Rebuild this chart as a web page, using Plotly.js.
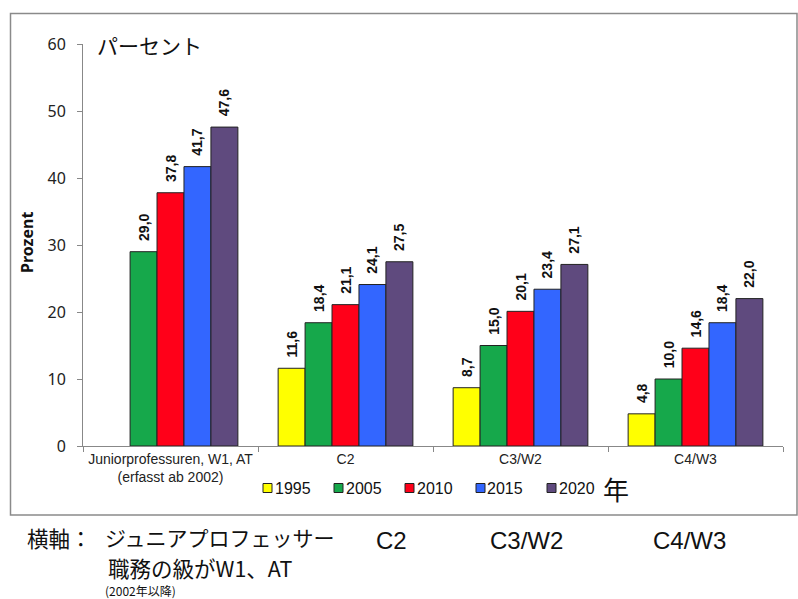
<!DOCTYPE html>
<html>
<head>
<meta charset="utf-8">
<script src="https://cdn.plot.ly/plotly-3.0.1.min.js"></script>
<style>
  html, body { margin: 0; padding: 0; background: #ffffff; }
  #chart { width: 798px; height: 599px; }
</style>
</head>
<body>
<div id="chart"></div>
<script>
// Categories (x axis) and the five survey years
const categories = [
  "Juniorprofessuren, W1, AT<br>(erfasst ab 2002)",
  "C2",
  "C3/W2",
  "C4/W3"
];
const years = ["1995", "2005", "2010", "2015", "2020"];

// Share of women per grade, in percent
const values1995 = [null, 11.6, 8.7, 4.8];
const values2005 = [29.0, 18.4, 15.0, 10.0];
const values2010 = [37.8, 21.1, 20.1, 14.6];
const values2015 = [41.7, 24.1, 23.4, 18.4];
const values2020 = [47.6, 27.5, 27.1, 22.0];

const seriesValues = [values1995, values2005, values2010, values2015, values2020];
const seriesColors = ["#ffff00", "#16a84b", "#ff0019", "#3366ff", "#5f4a7e"];

const plotLeft = 83, plotRight = 783, plotTop = 44, plotBottom = 446;
const W = 798, H = 599;
// pixel -> paper coordinate helpers
const px = x => (x - plotLeft) / (plotRight - plotLeft);
const py = y => (plotBottom - y) / (plotBottom - plotTop);

// German decimal comma; leading no-break spaces lift the label off the bar top
const fmt = v => (v === null ? "" : "\u00a0\u00a0" + v.toFixed(1).replace(".", ","));

const latin = "Liberation Sans, Arial, sans-serif";
const jpFont = "Noto Sans CJK JP, sans-serif";

const traces = years.map((yr, i) => ({
  type: "bar",
  name: yr,
  x: categories,
  y: seriesValues[i],
  text: seriesValues[i].map(fmt),
  textposition: "outside",
  textangle: -90,
  constraintext: "none",
  cliponaxis: false,
  textfont: { family: latin, size: 14, weight: "bold", color: "#111" },
  marker: { color: seriesColors[i], line: { color: "#222", width: 1 } },
  hoverinfo: "skip",
  showlegend: false
}));

// Year key below the axis: small outlined squares followed by the year
const keyStartX = 267.5, keyStep = 71, keyY = 488, keySize = 9;
const keyShapes = years.map((yr, i) => {
  const cx = keyStartX + i * keyStep;
  return {
    type: "rect", xref: "paper", yref: "paper",
    x0: px(cx - keySize / 2), x1: px(cx + keySize / 2),
    y0: py(keyY + keySize / 2), y1: py(keyY - keySize / 2),
    fillcolor: seriesColors[i], line: { color: "#222", width: 1 }
  };
});
const keyLabels = years.map((yr, i) => ({
  text: yr, xref: "paper", yref: "paper",
  x: px(keyStartX + i * keyStep + 5), y: py(keyY),
  showarrow: false, xanchor: "left", yanchor: "middle",
  font: { family: latin, size: 16, color: "#111" }
}));

const note = (text, x, y, size, family, xanchor) => ({
  text: text, xref: "paper", yref: "paper", x: px(x), y: py(y),
  showarrow: false, xanchor: xanchor || "left", yanchor: "middle", borderpad: 0,
  font: { family: family, size: size, color: "#111" }
});

const layout = {
  width: W,
  height: H,
  margin: { l: plotLeft, r: W - plotRight, t: plotTop, b: H - plotBottom, pad: 0 },
  paper_bgcolor: "#ffffff",
  plot_bgcolor: "#ffffff",
  barmode: "group",
  bargap: 0.23,
  bargroupgap: 0,
  showlegend: false,
  xaxis: {
    type: "category",
    range: [-0.5, 3.5],
    showline: true, linecolor: "#888", linewidth: 1,
    ticks: "outside", tickson: "boundaries", ticklen: 5, tickcolor: "#888",
    tickfont: { family: latin, size: 14, color: "#222" },
    showgrid: false, zeroline: false, fixedrange: true
  },
  yaxis: {
    range: [0, 60], dtick: 10,
    showline: true, linecolor: "#888", linewidth: 1,
    ticks: "outside", ticklen: 5, tickcolor: "#888",
    ticklabelstandoff: 8,
    tickfont: { family: "Noto Sans, sans-serif", size: 16, color: "#222" },
    showgrid: false, zeroline: false, fixedrange: true
  },
  shapes: [
    {
      type: "rect", xref: "paper", yref: "paper",
      x0: px(10.5), x1: px(797), y0: py(515), y1: py(13.5),
      line: { color: "#8a8a8a", width: 1.5 }, fillcolor: "rgba(0,0,0,0)", layer: "below"
    }
  ].concat(keyShapes),
  annotations: [
    { text: "Prozent", xref: "paper", yref: "paper", x: px(27), y: py(243),
      textangle: -90, showarrow: false, xanchor: "center", yanchor: "middle",
      font: { family: "Noto Sans, sans-serif", size: 16, weight: "bold", color: "#111" } },
    note("パーセント", 96, 45, 21, jpFont),
    note("年", 602, 488, 26, jpFont),
    note("横軸：", 26, 537, 21.5, jpFont),
    note("ジュニアプロフェッサー", 104, 537, 21, jpFont),
    note("職務の級がW1、AT", 107, 567.5, 21.5, jpFont),
    note("(2002年以降)", 104, 590.5, 12, jpFont),
    note("C2", 391, 540, 24, latin, "center"),
    note("C3/W2", 526, 540, 24, latin, "center"),
    note("C4/W3", 689, 540, 24, latin, "center")
  ].concat(keyLabels)
};

Plotly.newPlot("chart", traces, layout, { staticPlot: true, displayModeBar: false });
</script>
</body>
</html>
